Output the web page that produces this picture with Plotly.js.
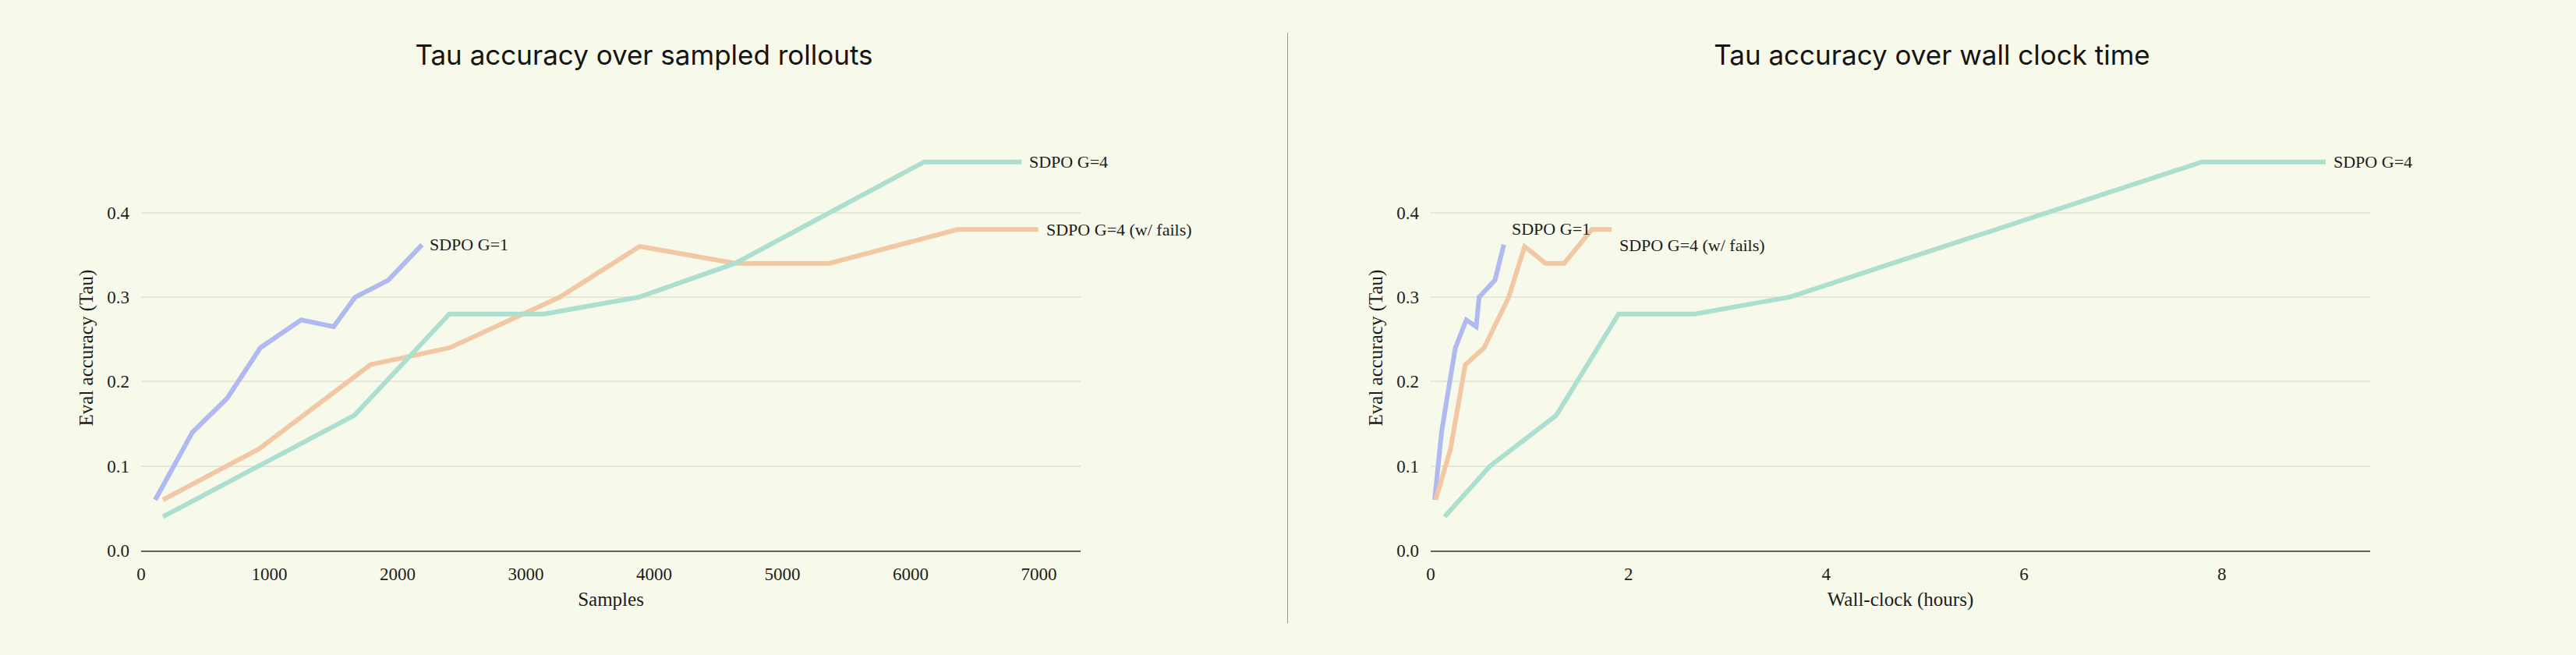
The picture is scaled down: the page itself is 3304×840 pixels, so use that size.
<!DOCTYPE html>
<html>
<head>
<meta charset="utf-8">
<script src="https://cdn.plot.ly/plotly-3.0.1.min.js"></script>
<style>
  body { margin: 0; background: #f7f9ea; }
  #left, #right { position: absolute; top: 0; width: 1652px; height: 840px; }
  #left { left: 0; }
  #right { left: 1652px; }
  #divider { position: absolute; left: 1651px; top: 42px; width: 3px; height: 757px; background: #9a9a92; }
</style>
</head>
<body>
<div id="left"></div>
<div id="divider"></div>
<div id="right"></div>
<script>
// SDPO G=1
var g1Samples = [110, 400, 670, 930, 1248, 1501, 1669, 1927, 2190];
var g1Hours = [0.04, 0.11, 0.165, 0.25, 0.36, 0.46, 0.49, 0.65, 0.74];
var g1Acc = [0.06, 0.14, 0.18, 0.24, 0.273, 0.265, 0.30, 0.32, 0.362];

// SDPO G=4 (w/ fails)
var failSamples = [170, 917, 1789, 2407, 3264, 3888, 4632, 5367, 6366, 6995];
var failHours = [0.05, 0.2, 0.35, 0.54, 0.79, 0.95, 1.16, 1.35, 1.63, 1.83];
var failAcc = [0.06, 0.12, 0.22, 0.24, 0.30, 0.36, 0.34, 0.34, 0.38, 0.38];

// SDPO G=4
var g4Samples = [170, 917, 1663, 2403, 3142, 3882, 4632, 6105, 6865];
var g4Hours = [0.14, 0.6, 1.27, 1.9, 2.67, 3.63, 4.67, 7.80, 9.05];
var g4Acc = [0.04, 0.10, 0.16, 0.28, 0.28, 0.30, 0.34, 0.46, 0.46];

var names = ["SDPO G=1", "SDPO G=4 (w/ fails)", "SDPO G=4"];
var colors = ["#b0b9f0", "#f2c7a4", "#acdfd0"];

var serif = "Liberation Serif, serif";
var ink = "#1c1c1c";

function makeChart(id, title, xTitle, xs, ys, xRange, dtick, margin, labelShift) {
  var data = [];
  var annotations = [];
  for (var i = 0; i < xs.length; i++) {
    data.push({
      x: xs[i],
      y: ys[i],
      mode: "lines",
      type: "scatter",
      name: names[i],
      line: { color: colors[i], width: 6 },
      hoverinfo: "skip"
    });
    var n = xs[i].length - 1;
    annotations.push({
      x: xs[i][n],
      y: ys[i][n],
      text: names[i],
      showarrow: false,
      xanchor: "left",
      yanchor: "middle",
      xshift: 8,
      yshift: labelShift[i],
      font: { family: serif, size: 22, color: ink }
    });
  }

  var layout = {
    width: 1652,
    height: 840,
    paper_bgcolor: "#f7f9ea",
    plot_bgcolor: "#f7f9ea",
    showlegend: false,
    margin: margin,
    title: {
      text: title,
      font: { family: "Inter, sans-serif", size: 35, color: "#141414" },
      xref: "container",
      x: 0.5,
      xanchor: "center",
      yref: "container",
      y: 1 - 71 / 840,
      yanchor: "middle"
    },
    xaxis: {
      range: xRange,
      dtick: dtick,
      showgrid: false,
      zeroline: false,
      showline: true,
      linecolor: "#63634f",
      linewidth: 2,
      ticks: "",
      ticklabelstandoff: 8,
      tickfont: { family: serif, size: 23, color: ink },
      title: {
        text: xTitle,
        standoff: 12,
        font: { family: serif, size: 25, color: ink }
      }
    },
    yaxis: {
      range: [0, 0.48],
      dtick: 0.1,
      tickformat: ".1f",
      showgrid: true,
      gridcolor: "#e5e7d7",
      gridwidth: 2,
      zeroline: false,
      showline: false,
      ticks: "",
      ticklabelstandoff: 14,
      tickfont: { family: serif, size: 23, color: ink },
      title: {
        text: "Eval accuracy (Tau)",
        standoff: 10,
        font: { family: serif, size: 25, color: ink }
      }
    },
    annotations: annotations
  };

  Plotly.newPlot(id, data, layout, { staticPlot: true });
}

makeChart(
  "left",
  "Tau accuracy over sampled rollouts",
  "Samples",
  [g1Samples, failSamples, g4Samples],
  [g1Acc, failAcc, g4Acc],
  [0, 7325],
  1000,
  { l: 181, r: 266, t: 186, b: 134 },
  [0, 0, 0]
);

makeChart(
  "right",
  "Tau accuracy over wall clock time",
  "Wall-clock (hours)",
  [g1Hours, failHours, g4Hours],
  [g1Acc, failAcc, g4Acc],
  [0, 9.5],
  2,
  { l: 183, r: 264, t: 186, b: 134 },
  [20, -20, 0]
);
</script>
</body>
</html>
